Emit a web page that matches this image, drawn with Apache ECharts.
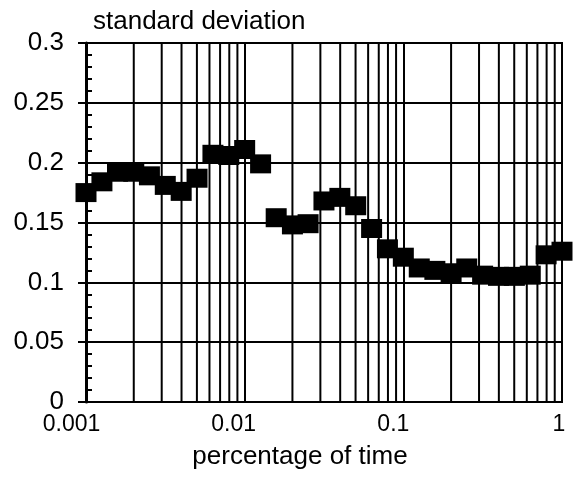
<!DOCTYPE html>
<html>
<head>
<meta charset="utf-8">
<script src="https://cdn.jsdelivr.net/npm/echarts@6/dist/echarts.min.js"></script>
<style>
  html, body { margin: 0; padding: 0; background: #fff; }
  #chart { width: 573px; height: 479px; }
</style>
</head>
<body>
<div id="chart"></div>
<script>
// Sampling points along the time-fraction axis (tenth-decade steps)
const timeFractions = [
  0.001, 0.00126, 0.00158, 0.002, 0.00251, 0.00316, 0.00398, 0.00501, 0.00631, 0.00794,
  0.01, 0.0126, 0.0158, 0.02, 0.0251, 0.0316, 0.0398, 0.0501, 0.0631, 0.0794,
  0.1, 0.126, 0.158, 0.2, 0.251, 0.316, 0.398, 0.501, 0.631, 0.794,
  1
];
// Standard deviation measured at each point
const stdDevValues = [
  0.175, 0.184, 0.192, 0.192, 0.189, 0.181, 0.176, 0.187, 0.207, 0.206,
  0.211, 0.199, 0.154, 0.148, 0.149, 0.168, 0.171, 0.164, 0.145, 0.128,
  0.121, 0.112, 0.110, 0.108, 0.112, 0.106, 0.105, 0.105, 0.106, 0.123,
  0.126
];
// Axis tick labels
const xTickLabels = ['0.001', '0.01', '0.1', '1'];
const yTickLabels = ['0', '0.05', '0.1', '0.15', '0.2', '0.25', '0.3'];

const FONT = '"Liberation Sans", Arial, Helvetica, sans-serif';
const Y_MAX = 0.3;

// Intermediate log grid lines (2..9 within each decade)
const minorGridX = [];
[0.001, 0.01, 0.1].forEach(function (d) {
  for (let m = 2; m <= 9; m++) {
    minorGridX.push([+(d * m).toPrecision(3), 0]);
  }
});

const chart = echarts.init(document.getElementById('chart'), null, { renderer: 'canvas' });

const xLabelRich = {
  a: { fontSize: 23, fontFamily: FONT, color: '#000', padding: [0, 29, 0, 0] },
  b: { fontSize: 23, fontFamily: FONT, color: '#000', padding: [0, 22, 0, 0] },
  c: { fontSize: 23, fontFamily: FONT, color: '#000', padding: [0, 20, 0, 0] },
  d: { fontSize: 23, fontFamily: FONT, color: '#000', padding: [0, 6, 0, 0] }
};
const xLabelKeys = ['a', 'b', 'c', 'd'];

chart.setOption({
  animation: false,
  backgroundColor: '#fff',
  title: {
    text: 'standard deviation',
    left: 88,
    top: 4,
    textStyle: { fontFamily: FONT, fontSize: 26, fontWeight: 'normal', color: '#000' }
  },
  grid: {
    left: 86, right: 11, top: 43, bottom: 77,
    show: true,
    borderColor: '#000',
    borderWidth: 2,
    backgroundColor: 'transparent'
  },
  xAxis: {
    type: 'log',
    logBase: 10,
    min: 0.001,
    max: 1,
    name: 'percentage of time',
    nameLocation: 'middle',
    nameGap: 42,
    nameTextStyle: { fontFamily: FONT, fontSize: 26, color: '#000', padding: [0, 48, 0, 0] },
    axisLine: { show: true, lineStyle: { color: '#000', width: 2 } },
    axisTick: { show: false },
    splitLine: { show: true, lineStyle: { color: '#000', width: 2 } },
    axisLabel: {
      margin: 11,
      formatter: function (v) {
        const e = Math.round(Math.log10(v)) + 3;
        return '{' + xLabelKeys[e] + '|' + xTickLabels[e] + '}';
      },
      rich: xLabelRich
    }
  },
  yAxis: [
    {
      type: 'value',
      min: 0,
      max: Y_MAX,
      interval: 0.05,
      axisLine: { show: true, lineStyle: { color: '#000', width: 3 } },
      axisTick: { show: true, length: 8, lineStyle: { color: '#000', width: 2 } },
      splitLine: { show: true, lineStyle: { color: '#000', width: 2 } },
      axisLabel: {
        margin: 22,
        fontFamily: FONT,
        fontSize: 26,
        color: '#000',
        formatter: function (v) {
          return yTickLabels[Math.round(v / 0.05)];
        }
      }
    },
    {
      // companion axis carrying the inward minor ticks
      type: 'value',
      position: 'left',
      min: 0,
      max: Y_MAX,
      interval: 0.05,
      axisLine: { show: false },
      axisTick: { show: false, inside: true },
      minorTick: { show: true, splitNumber: 5, length: 6, lineStyle: { color: '#000', width: 2 } },
      splitLine: { show: false },
      axisLabel: { show: false }
    }
  ],
  series: [
    {
      type: 'custom',
      silent: true,
      z: 1,
      clip: true,
      data: minorGridX,
      encode: { x: 0, y: 1 },
      renderItem: function (params, api) {
        const p0 = api.coord([api.value(0), 0]);
        const p1 = api.coord([api.value(0), Y_MAX]);
        return {
          type: 'line',
          shape: { x1: p0[0], y1: p0[1], x2: p1[0], y2: p1[1] },
          style: { stroke: '#000', lineWidth: 2 }
        };
      }
    },
    {
      type: 'scatter',
      z: 5,
      clip: false,
      symbol: 'rect',
      symbolSize: [21, 19],
      itemStyle: { color: '#000', opacity: 1 },
      data: timeFractions.map(function (x, i) { return [x, stdDevValues[i]]; })
    }
  ]
});
</script>
</body>
</html>
